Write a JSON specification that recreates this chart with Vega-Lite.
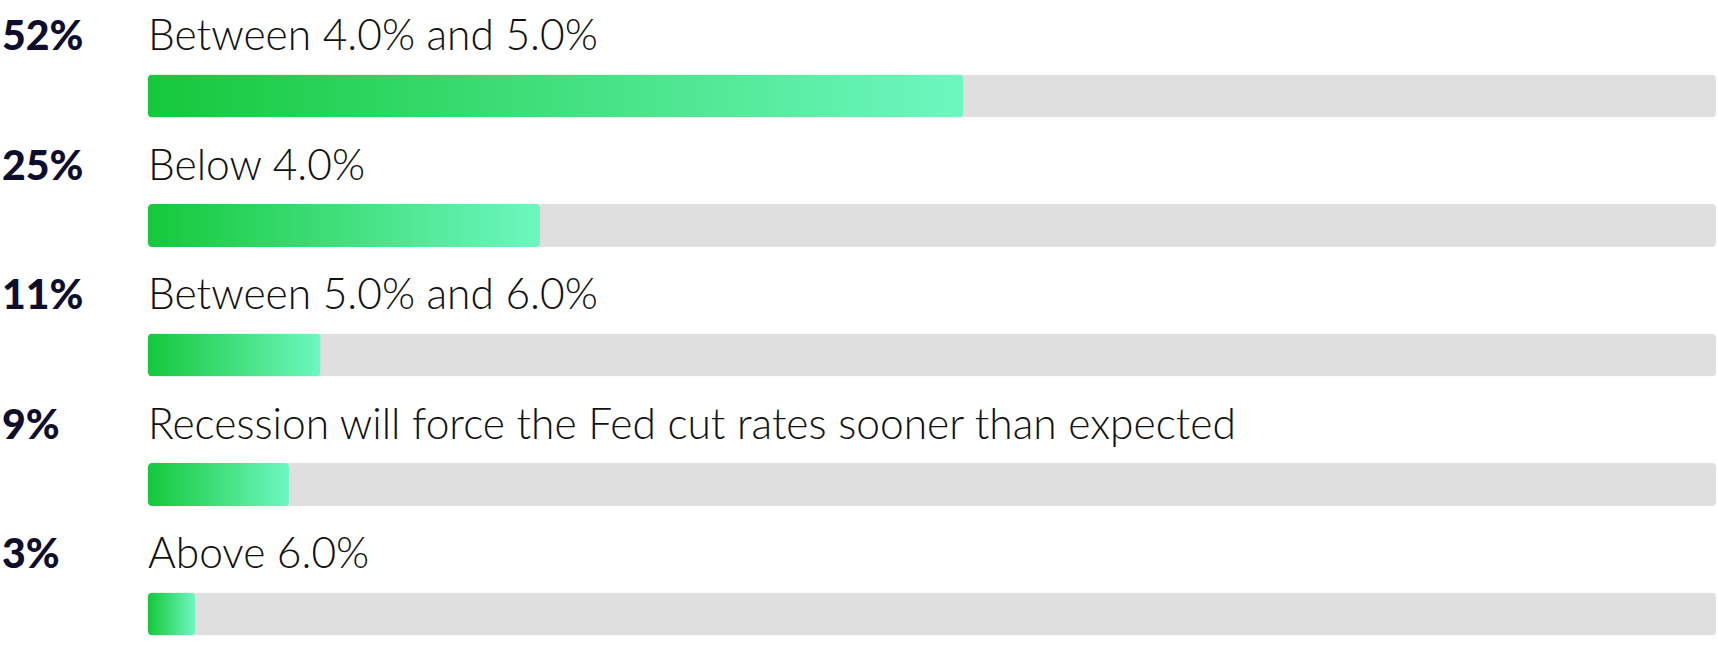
{
  "$schema": "https://vega.github.io/schema/vega-lite/v6.json",
  "width": 1568,
  "height": 647.5,
  "autosize": {"type": "none"},
  "padding": {"left": 148, "right": 2, "top": 5, "bottom": 5.5},
  "background": "#ffffff",
  "config": {"view": {"stroke": null}},
  "data": {
    "values": [
      {"label": "Between 4.0% and 5.0%", "share": 0.52, "total": 1},
      {"label": "Below 4.0%", "share": 0.25, "total": 1},
      {"label": "Between 5.0% and 6.0%", "share": 0.11, "total": 1},
      {"label": "Recession will force the Fed cut rates sooner than expected", "share": 0.09, "total": 1},
      {"label": "Above 6.0%", "share": 0.03, "total": 1}
    ]
  },
  "encoding": {
    "y": {
      "field": "label",
      "type": "nominal",
      "sort": null,
      "axis": null,
      "scale": {"paddingInner": 0, "paddingOuter": 0}
    }
  },
  "layer": [
    {
      "description": "grey track spanning the full 0-100% range",
      "mark": {"type": "bar", "height": 43, "yOffset": 26.25, "cornerRadius": 4, "color": "#dfdfdf"},
      "encoding": {
        "x": {"field": "total", "type": "quantitative", "axis": null, "scale": {"domain": [0, 1], "nice": false}}
      }
    },
    {
      "description": "share of respondents, green gradient fill",
      "mark": {
        "type": "bar",
        "height": 43,
        "yOffset": 26.25,
        "cornerRadius": 4,
        "color": {
          "gradient": "linear",
          "x1": 0, "y1": 0, "x2": 1, "y2": 0,
          "stops": [
            {"offset": 0, "color": "#15c83b"},
            {"offset": 1, "color": "#6ef7c1"}
          ]
        }
      },
      "encoding": {
        "x": {"field": "share", "type": "quantitative"}
      }
    },
    {
      "description": "answer text above each bar",
      "mark": {
        "type": "text",
        "align": "left",
        "baseline": "alphabetic",
        "dy": -19.75,
        "font": "Lato",
        "fontWeight": 300,
        "fontSize": 42.5,
        "color": "#111111"
      },
      "encoding": {
        "x": {"datum": 0, "type": "quantitative"},
        "text": {"field": "label"}
      }
    },
    {
      "description": "percentage in bold at the left edge",
      "mark": {
        "type": "text",
        "align": "left",
        "baseline": "alphabetic",
        "dx": -146,
        "dy": -19.75,
        "font": "Lato",
        "fontWeight": 900,
        "fontSize": 41,
        "color": "#0e0d2c"
      },
      "encoding": {
        "x": {"datum": 0, "type": "quantitative"},
        "text": {"field": "share", "type": "quantitative", "format": ".0%"}
      }
    }
  ]
}
